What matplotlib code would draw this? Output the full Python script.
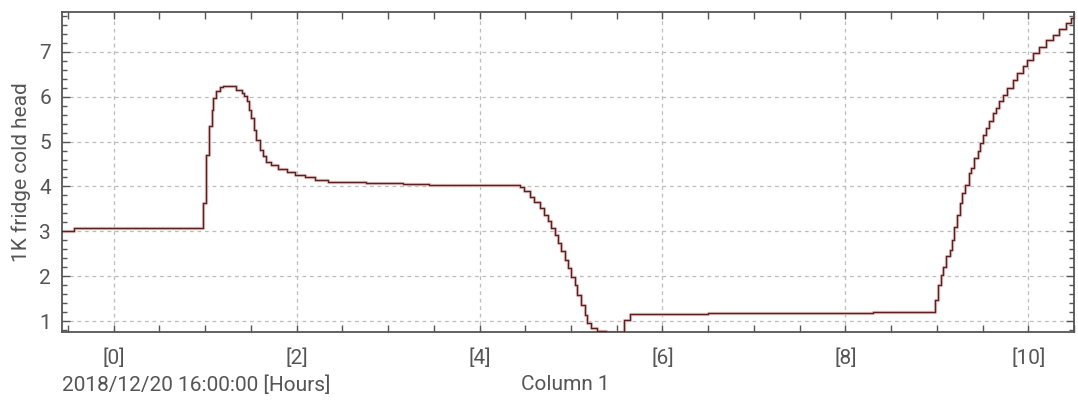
import matplotlib
matplotlib.use("Agg")
import matplotlib.pyplot as plt
from matplotlib.ticker import MultipleLocator, FuncFormatter

# Elapsed time since 2018/12/20 16:00:00 [hours] and cold-head reading
hours = [-0.57, -0.43, 0.30, 0.976, 1.005, 1.04, 1.07, 1.085, 1.12, 1.16, 1.19,
         1.29, 1.34, 1.40, 1.43, 1.46, 1.48, 1.50, 1.53, 1.56, 1.60, 1.63, 1.67,
         1.72, 1.80, 1.89, 1.98, 2.09, 2.20, 2.34, 2.49, 2.76, 3.16, 3.45, 4.29,
         4.44, 4.49, 4.55, 4.60, 4.66, 4.71, 4.75, 4.78, 4.82, 4.86, 4.89, 4.93,
         4.97, 5.00, 5.04, 5.07, 5.11, 5.15, 5.17, 5.22, 5.29, 5.38, 5.58, 5.64,
         6.50, 7.50, 8.30, 8.98, 9.01, 9.045, 9.07, 9.10, 9.14, 9.17, 9.19, 9.22,
         9.25, 9.28, 9.31, 9.35, 9.37, 9.41, 9.45, 9.47, 9.50, 9.54, 9.57, 9.61,
         9.65, 9.68, 9.72, 9.77, 9.83, 9.88, 9.94, 9.99, 10.05, 10.12, 10.19,
         10.27, 10.34, 10.41, 10.47, 10.52]
cold_head = [3.00, 3.07, 3.08, 3.63, 4.70, 5.34, 5.71, 5.97, 6.12, 6.21, 6.25,
             6.23, 6.16, 6.08, 6.01, 5.90, 5.71, 5.52, 5.26, 5.04, 4.82, 4.67,
             4.54, 4.47, 4.39, 4.32, 4.26, 4.20, 4.15, 4.11, 4.09, 4.07, 4.05,
             4.04, 4.03, 3.98, 3.89, 3.77, 3.66, 3.52, 3.37, 3.22, 3.07, 2.92,
             2.73, 2.55, 2.36, 2.18, 1.99, 1.80, 1.58, 1.36, 1.13, 0.95, 0.84,
             0.78, 0.76, 1.02, 1.16, 1.17, 1.18, 1.19, 1.47, 1.80, 2.03, 2.21,
             2.44, 2.58, 2.81, 3.10, 3.37, 3.63, 3.85, 4.04, 4.30, 4.41, 4.63,
             4.78, 4.97, 5.15, 5.30, 5.45, 5.64, 5.75, 5.90, 6.04, 6.19, 6.38,
             6.53, 6.68, 6.83, 6.98, 7.12, 7.27, 7.38, 7.50, 7.65, 7.76, 7.87]

major_hours = [0, 2, 4, 6, 8, 10]
y_ticks = [1, 2, 3, 4, 5, 6, 7]

plt.rcParams["font.family"] = ["Roboto", "DejaVu Sans"]
text_color = "#555555"
frame_color = "#555555"

fig = plt.figure(figsize=(10.78, 4.03), dpi=100)
ax = fig.add_axes([62 / 1078, 1 - 332 / 403, (1074 - 62) / 1078, (332 - 12) / 403])

line_color = "#5e1f1f"
ax.step(hours, cold_head, where="post", color="#e2c6c6", lw=2.4, zorder=2)
ax.step(hours, cold_head, where="post", color=line_color, lw=1.0, zorder=3)

ax.set_xlim(-0.565, 10.5)
ax.set_ylim(0.755, 7.89)

ax.set_xticks(major_hours)
ax.xaxis.set_major_formatter(FuncFormatter(lambda v, p: f"[{int(round(v))}]"))
ax.xaxis.set_minor_locator(MultipleLocator(0.5))
ax.set_yticks(y_ticks)
ax.yaxis.set_minor_locator(MultipleLocator(0.2))

ax.tick_params(which="both", direction="in", top=True, right=True,
               color=frame_color, width=1.0)
ax.tick_params(which="major", length=6, labelsize=15, labelcolor=text_color, pad=8)
ax.tick_params(which="minor", length=3.5)
ax.tick_params(axis="x", which="both", length=5)
ax.tick_params(axis="x", which="major", pad=12)

for s in ax.spines.values():
    s.set_color(frame_color)
    s.set_linewidth(1.3)

ax.grid(True, which="major", color="#bdbdbd", lw=0.9, linestyle=(0, (3, 3)))
ax.set_axisbelow(True)

ax.set_ylabel("1K fridge cold head", fontsize=15, color=text_color, labelpad=6)

fig.text(62 / 1078, 1 - 385 / 403, "2018/12/20 16:00:00 [Hours]", fontsize=15,
         color=text_color, ha="left", va="center")
fig.text(565 / 1078, 1 - 385 / 403, "Column 1", fontsize=15,
         color=text_color, ha="center", va="center")

fig.savefig("out.png", dpi=100)
